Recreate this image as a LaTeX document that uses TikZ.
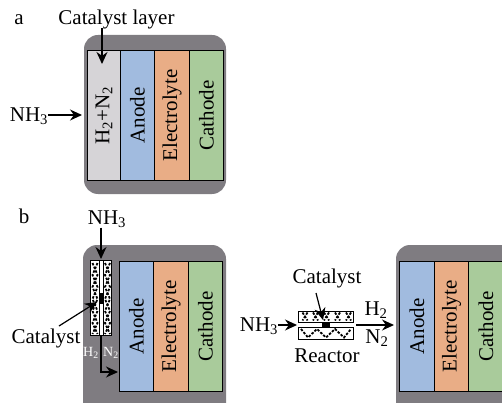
\documentclass[tikz,border=0pt]{standalone}
\usepackage{fontspec}
\setmainfont{Liberation Serif}
\usetikzlibrary{arrows.meta}
\definecolor{casegray}{HTML}{7F7C81}
\definecolor{layergray}{HTML}{D6D4D7}
\definecolor{anodeblue}{HTML}{A1BBDF}
\definecolor{electroorange}{HTML}{E9AD86}
\definecolor{cathodegreen}{HTML}{A9CB9B}
\tikzset{
	label/.style={inner sep=0pt,font=\fontsize{21}{21}\selectfont},
	smalllabel/.style={inner sep=0pt,text=white,font=\fontsize{14}{14}\selectfont},
	casebox/.style={fill=casegray,rounded corners=14pt},
	cellbox/.style={draw,line width=.9pt,rotate=90,inner sep=0pt,minimum width=129.5pt,minimum height=34.5pt,font=\fontsize{21}{21}\selectfont},
	flow/.style={line width=1.2pt,-{Stealth[length=12pt,width=11pt]}},
	bedbox/.style={draw,fill=white,line width=.9pt,inner sep=0pt},
	bedzig/.style={line width=1.8pt,dash pattern=on 2.5pt off 1.5pt}
}
\begin{document}
\begin{tikzpicture}[x=1pt,y=-1pt]
	\useasboundingbox (0,0) rectangle (502,403);
	\clip (0,0) rectangle (502,403);
	% panel a
	\fill[casebox] (84,35) rectangle (226,194);
	\node[cellbox,fill=layergray,minimum height=33pt] (gasa) at (104,115.5) {H\textsubscript{2}+N\textsubscript{2}};
	\node[cellbox,fill=anodeblue] (anodea) at (137.5,115.5) {Anode};
	\node[cellbox,fill=electroorange] (electrolytea) at (172,115.5) {Electrolyte};
	\node[cellbox,fill=cathodegreen] (cathodea) at (206.5,115.5) {Cathode};
	\node[label] (titlea) at (19,20) {a};
	\node[label] (layera) at (116.5,19) {Catalyst layer};
	\node[label] (ammoniaa) at (29,116) {NH\textsubscript{3}};
	\coordinate (layertip) at (102,64);
	\coordinate (layerstart) at (102,28);
	\coordinate (casea) at (82,115);
	\draw[flow] (layerstart) -- (layertip);
	\draw[flow] (ammoniaa.east |- casea) -- (casea);
	% panel b, left
	\fill[casebox] (83,245) rectangle (226,420);
	\node[cellbox,fill=anodeblue] (anodeb) at (136.5,326.5) {Anode};
	\node[cellbox,fill=electroorange] (electrolyteb) at (171,326.5) {Electrolyte};
	\node[cellbox,fill=cathodegreen] (cathodeb) at (205.5,326.5) {Cathode};
	\node[bedbox,minimum width=21pt,minimum height=75pt] (bed) at (101,298) {};
	\foreach \sx/\ex in {92.5/97.5,97.5/92.5,105/110,110/105}
		\draw[bedzig] (\sx,263) -- (\ex,275) -- (\sx,287) -- (\ex,299) -- (\sx,311) -- (\ex,323) -- (\sx,334);
	\fill[white] (99.3,261.5) rectangle (103.2,334.5);
	\draw (99.3,261) -- (99.3,335) (103.2,261) -- (103.2,335);
	\node[fill=black,minimum width=5pt,minimum height=11pt,inner sep=0pt] (catb) at (101,298) {};
	\node[label] (titleb) at (24,216) {b};
	\node[label] (ammoniab) at (107,219) {NH\textsubscript{3}};
	\node[label] (catalystb) at (46,338) {Catalyst};
	\node[smalllabel] (hydrogenb) at (91,353) {H\textsubscript{2}};
	\node[smalllabel] (nitrogenb) at (111,353) {N\textsubscript{2}};
	\coordinate (bedtop) at (101,259);
	\coordinate (bedbottom) at (101,335);
	\coordinate (bend) at (101,372);
	\coordinate (anodeinlet) at (118,372);
	\coordinate (catalysttail) at (59,326);
	\coordinate (catalysthead) at (97,302);
	\draw[flow] (ammoniab.south -| bedtop) -- (bedtop);
	\draw[flow] (bedbottom) -- (bend) -- (anodeinlet);
	\draw[flow] (catalysttail) -- (catalysthead);
	% panel b, right
	\fill[casebox] (396,245) rectangle (530,420);
	\node[cellbox,fill=anodeblue] (anodec) at (417,326.5) {Anode};
	\node[cellbox,fill=electroorange] (electrolytec) at (451.5,326.5) {Electrolyte};
	\node[cellbox,fill=cathodegreen] (cathodec) at (486,326.5) {Cathode};
	\node[bedbox,minimum width=55pt,minimum height=11pt] (bedtopc) at (326,316.5) {};
	\node[bedbox,minimum width=55pt,minimum height=12pt] (bedlowc) at (326,333) {};
	\foreach \px in {302.5,313,324,335,346}{
		\draw[bedzig] (\px,312.5) -- (\px+5,320.5);
		\draw[bedzig] (\px+5,312.5) -- (\px,320.5);
	}
	\draw[bedzig] (301,329) -- (308,337.5) -- (317,329) -- (326,337.5) -- (335,329) -- (344,337.5) -- (351,329);
	\node[fill=black,minimum width=8.5pt,minimum height=6pt,inner sep=0pt] (catc) at (326,324.5) {};
	\node[label] (catalystc) at (327,278) {Catalyst};
	\node[label] (reactorc) at (327,356) {Reactor};
	\node[label] (ammoniac) at (259,326) {NH\textsubscript{3}};
	\node[label] (hydrogenc) at (376,310) {H\textsubscript{2}};
	\node[label] (nitrogenc) at (377,338) {N\textsubscript{2}};
	\coordinate (reactorinlet) at (297,325);
	\coordinate (reactoroutlet) at (356,325);
	\coordinate (cellinlet) at (394,325);
	\coordinate (catalystend) at (323,320);
	\coordinate (catalystc2) at (316,293);
	\draw[flow] (ammoniac.east |- reactorinlet) -- (reactorinlet);
	\draw[flow] (reactoroutlet) -- (cellinlet);
	\draw[flow] (catalystc2) -- (catalystend);
\end{tikzpicture}
\end{document}
